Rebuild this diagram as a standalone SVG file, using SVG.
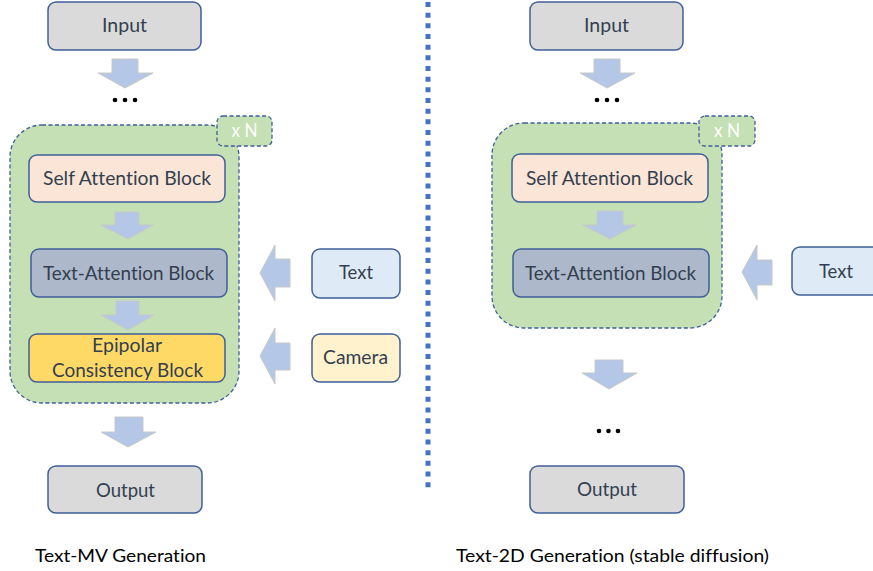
<svg xmlns="http://www.w3.org/2000/svg" width="873" height="571" viewBox="0 0 873 571">
  <defs>
    <style>
      .box { stroke: #3f5f99; stroke-width: 1.5; }
      .io { fill: #dadada; }
      .self { fill: #fbe5d6; }
      .tattn { fill: #adb9ca; }
      .epi { fill: #ffd966; }
      .txt { fill: #deebf7; }
      .cam { fill: #fff2cc; }
      .group { fill: #c5e0b4; stroke: #3f5f99; stroke-width: 1.3; stroke-dasharray: 4 2.5; }
      text { font-variant-ligatures: none; }
      .lbl { font-family: Lato, "Open Sans", sans-serif; font-size: 19px; fill: #333f50; text-anchor: middle; }
      .xn { font-family: Lato, "Open Sans", sans-serif; font-size: 19px; fill: #ffffff; text-anchor: middle; }
      .cap { font-family: Lato, "Open Sans", sans-serif; font-size: 18px; fill: #000000; }
      .arrow { fill: #b4c7e7; stroke: #c8c8c8; stroke-width: 1; }
      .dot { fill: #000000; }
    </style>
  </defs>
  <rect width="873" height="571" fill="#ffffff"/>

  <!-- divider between the two pipelines -->
  <line x1="428" y1="2" x2="428" y2="488" stroke="#4472c4" stroke-width="5" stroke-dasharray="5 5.67"/>

  <!-- ===== Text-MV pipeline (left) ===== -->
  <g id="mv-input">
    <rect class="box io" x="48" y="2" width="153" height="48" rx="8"/>
    <text class="lbl" x="124.5" y="32" textLength="45" lengthAdjust="spacingAndGlyphs">Input</text>
  </g>
  <g id="mv-dots-top">
    <circle class="dot" cx="115" cy="100" r="2.3"/>
    <circle class="dot" cx="125" cy="100" r="2.3"/>
    <circle class="dot" cx="135" cy="100" r="2.3"/>
  </g>
  <g id="mv-repeat">
    <rect class="group" x="10" y="125" width="229" height="278" rx="32"/>
    <rect class="group" x="217" y="116" width="55" height="30" rx="6"/>
    <text class="xn" x="244.5" y="137" textLength="26" lengthAdjust="spacingAndGlyphs">x N</text>
  </g>
  <g id="mv-self-attention">
    <rect class="box self" x="29" y="155" width="196" height="47" rx="8"/>
    <text class="lbl" x="127" y="185" textLength="168" lengthAdjust="spacingAndGlyphs">Self Attention Block</text>
  </g>
  <g id="mv-text-attention">
    <rect class="box tattn" x="31" y="249" width="196" height="48" rx="8"/>
    <text class="lbl" x="128.5" y="280" textLength="171" lengthAdjust="spacingAndGlyphs">Text-Attention Block</text>
  </g>
  <g id="mv-epipolar">
    <rect class="box epi" x="29" y="334" width="196" height="48" rx="8"/>
    <text class="lbl" x="127" y="352" textLength="70" lengthAdjust="spacingAndGlyphs">Epipolar</text>
    <text class="lbl" x="127.5" y="377" textLength="151" lengthAdjust="spacingAndGlyphs">Consistency Block</text>
  </g>
  <g id="mv-text">
    <rect class="box txt" x="312" y="249" width="88" height="49" rx="8"/>
    <text class="lbl" x="356" y="279" textLength="34" lengthAdjust="spacingAndGlyphs">Text</text>
  </g>
  <g id="mv-camera">
    <rect class="box cam" x="312" y="334" width="88" height="48" rx="8"/>
    <text class="lbl" x="355.5" y="364" textLength="65" lengthAdjust="spacingAndGlyphs">Camera</text>
  </g>
  <g id="mv-output">
    <rect class="box io" x="48" y="466" width="154" height="47" rx="8"/>
    <text class="lbl" x="125.5" y="497" textLength="59" lengthAdjust="spacingAndGlyphs">Output</text>
  </g>
  <text class="cap" x="35" y="562" textLength="171" lengthAdjust="spacingAndGlyphs">Text-MV Generation</text>

  <!-- ===== Text-2D pipeline (right) ===== -->
  <g id="sd-input">
    <rect class="box io" x="530" y="2" width="153" height="48" rx="8"/>
    <text class="lbl" x="606.5" y="32" textLength="45" lengthAdjust="spacingAndGlyphs">Input</text>
  </g>
  <g id="sd-dots-top">
    <circle class="dot" cx="597" cy="100" r="2.3"/>
    <circle class="dot" cx="607" cy="100" r="2.3"/>
    <circle class="dot" cx="617" cy="100" r="2.3"/>
  </g>
  <g id="sd-repeat">
    <rect class="group" x="492" y="123" width="230" height="205" rx="32"/>
    <rect class="group" x="699" y="116" width="56" height="30" rx="6"/>
    <text class="xn" x="727" y="137" textLength="26" lengthAdjust="spacingAndGlyphs">x N</text>
  </g>
  <g id="sd-self-attention">
    <rect class="box self" x="512" y="154" width="196" height="48" rx="8"/>
    <text class="lbl" x="609.5" y="185" textLength="167" lengthAdjust="spacingAndGlyphs">Self Attention Block</text>
  </g>
  <g id="sd-text-attention">
    <rect class="box tattn" x="513" y="249" width="196" height="48" rx="8"/>
    <text class="lbl" x="610.5" y="280" textLength="171" lengthAdjust="spacingAndGlyphs">Text-Attention Block</text>
  </g>
  <g id="sd-text">
    <rect class="box txt" x="792" y="247" width="100" height="48" rx="8"/>
    <text class="lbl" x="836" y="278" textLength="34" lengthAdjust="spacingAndGlyphs">Text</text>
  </g>
  <g id="sd-dots-bottom">
    <circle class="dot" cx="599" cy="431" r="2.3"/>
    <circle class="dot" cx="608.5" cy="431" r="2.3"/>
    <circle class="dot" cx="618" cy="431" r="2.3"/>
  </g>
  <g id="sd-output">
    <rect class="box io" x="530" y="466" width="154" height="47" rx="8"/>
    <text class="lbl" x="607" y="496" textLength="60" lengthAdjust="spacingAndGlyphs">Output</text>
  </g>
  <text class="cap" x="456" y="562" textLength="313" lengthAdjust="spacingAndGlyphs">Text-2D Generation (stable diffusion)</text>

  <!-- ===== block arrows ===== -->
  <g id="connectors">
    <!-- left pipeline, downward -->
    <polygon class="arrow" points="112,59 138,59 138,73 153,73 125,88 98,73 112,73"/>
    <polygon class="arrow" points="115,212 139,212 139,225 153,225 128,239 101,225 115,225"/>
    <polygon class="arrow" points="116,301 139,301 139,315 154,315 128,330 101,315 116,315"/>
    <polygon class="arrow" points="115,417 143,417 143,432 156,432 128,447 101,432 115,432"/>
    <!-- left pipeline, conditioning inputs -->
    <polygon class="arrow" points="290,259 290,287 275,287 275,301 260,273 275,245 275,259"/>
    <polygon class="arrow" points="290,343 290,370 275,370 275,384 260,356 275,328 275,343"/>
    <!-- right pipeline, downward -->
    <polygon class="arrow" points="594,59 620,59 620,73 635,73 607,88 580,73 594,73"/>
    <polygon class="arrow" points="597,211 623,211 623,225 636,225 610,239 583,225 597,225"/>
    <polygon class="arrow" points="595,360 623,360 623,373 637,373 609,389 582,373 595,373"/>
    <!-- right pipeline, text conditioning -->
    <polygon class="arrow" points="772,260 772,285 757,285 757,300 742,272 757,245 757,260"/>
  </g>
</svg>
